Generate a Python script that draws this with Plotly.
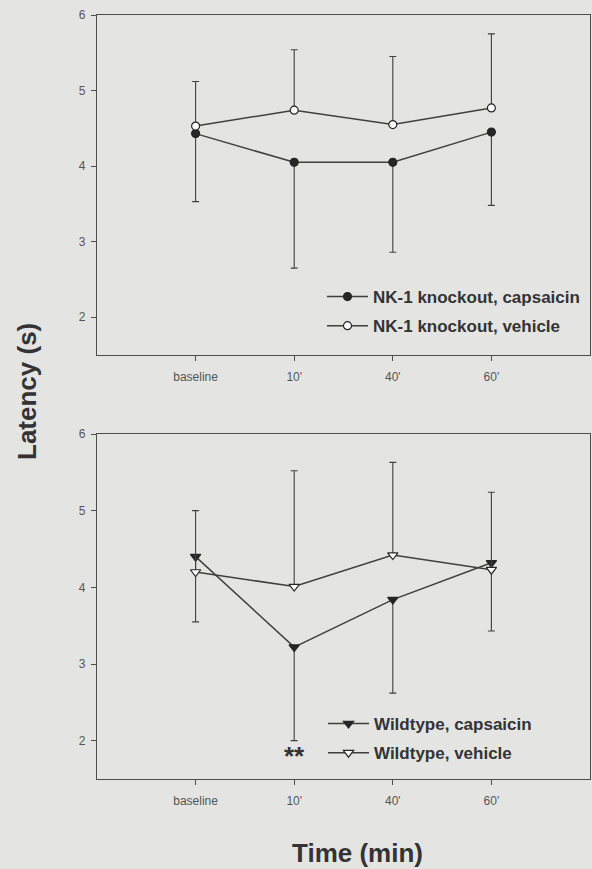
import plotly.graph_objects as go

# ---------------- data ----------------
time_labels = ["baseline", "10'", "40'", "60'"]

ko_caps_mean = [4.43, 4.05, 4.05, 4.45]
ko_caps_lower = [3.53, 2.65, 2.86, 3.48]
ko_veh_mean = [4.53, 4.74, 4.55, 4.77]
ko_veh_upper = [5.12, 5.54, 5.45, 5.75]

wt_caps_mean = [4.40, 3.22, 3.84, 4.32]
wt_caps_lower = [3.55, 2.00, 2.62, 3.43]
wt_veh_mean = [4.20, 4.01, 4.42, 4.23]
wt_veh_upper = [5.00, 5.52, 5.63, 5.24]

y_ticks = [2, 3, 4, 5, 6]
signif_label = "**"
signif_time = "10'"
signif_y = 1.80

# ---------------- styles ----------------
BG = "#e4e5e3"
AX = "#4d4d4d"
LINE = "#3f3f3f"
DARK = "#262626"
FONT = "Liberation Sans, Arial, sans-serif"

W, H = 592, 869
ML, MR, MT, MB = 97, 2, 15, 90
PH = H - MT - MB


def py(pix):
    return (H - MB - pix) / PH


def px(pix):
    return (pix - ML) / (W - ML - MR)


def down(mean, lower):
    return [m - l for m, l in zip(mean, lower)]


def up(mean, upper):
    return [u - m for m, u in zip(mean, upper)]


zeros = [0] * len(time_labels)

fig = go.Figure()

def add(mean, err_plus, err_minus, name, symbol, fill, xa, ya, legend, group):
    fig.add_trace(go.Scatter(
        x=time_labels, y=mean, name=name, mode="lines+markers",
        xaxis=xa, yaxis=ya, legend=legend, legendgroup=group,
        line=dict(color=LINE, width=1.5),
        marker=dict(symbol=symbol, size=9 if "triangle" in symbol else 8,
                    color=fill, line=dict(color=DARK, width=1.2)),
        error_y=dict(type="data", symmetric=False, array=err_plus,
                     arrayminus=err_minus, color=LINE, thickness=1.1, width=3.5),
    ))

add(ko_caps_mean, zeros, down(ko_caps_mean, ko_caps_lower),
    "NK-1 knockout, capsaicin", "circle", DARK, "x", "y", "legend", "a")
add(ko_veh_mean, up(ko_veh_mean, ko_veh_upper), zeros,
    "NK-1 knockout, vehicle", "circle", "#ffffff", "x", "y", "legend", "b")
add(wt_caps_mean, zeros, down(wt_caps_mean, wt_caps_lower),
    "Wildtype, capsaicin", "triangle-down", DARK, "x2", "y2", "legend2", "c")
add(wt_veh_mean, up(wt_veh_mean, wt_veh_upper), zeros,
    "Wildtype, vehicle", "triangle-down", "#ffffff", "x2", "y2", "legend2", "d")

xcommon = dict(type="category", categoryorder="array", categoryarray=time_labels,
               range=[-1, 4], showline=True, linecolor=AX, linewidth=1.2,
               mirror=True, ticks="outside", ticklen=5, tickcolor=AX,
               tickwidth=1, showgrid=False, zeroline=False,
               tickfont=dict(family=FONT, size=12, color="#555555"),
               ticklabelstandoff=5)
ycommon = dict(range=[1.5, 6], tickvals=y_ticks, showline=True, linecolor=AX,
               linewidth=1.2, mirror=True, ticks="outside", ticklen=5,
               tickcolor=AX, tickwidth=1, showgrid=False, zeroline=False,
               tickfont=dict(family=FONT, size=12, color="#555555"),
               ticklabelstandoff=3)

top_dom = [py(355), py(15)]
bot_dom = [py(779), py(434)]

legend_common = dict(bgcolor="rgba(0,0,0,0)", borderwidth=0,
                     font=dict(family=FONT, size=17, color="#333333", weight="bold"),
                     tracegroupgap=4, xanchor="left", yanchor="top",
                     itemwidth=41)

fig.update_layout(
    width=W, height=H,
    margin=dict(l=ML, r=MR, t=MT, b=MB),
    paper_bgcolor=BG, plot_bgcolor=BG,
    xaxis=dict(domain=[0, 1], anchor="y", **xcommon),
    yaxis=dict(domain=top_dom, anchor="x", **ycommon),
    xaxis2=dict(domain=[0, 1], anchor="y2", **xcommon),
    yaxis2=dict(domain=bot_dom, anchor="x2", **ycommon),
    legend=dict(x=px(322), y=py(279), **legend_common),
    legend2=dict(x=px(323), y=py(706), **legend_common),
    showlegend=True,
    annotations=[
        dict(text=signif_label, x=signif_time, y=signif_y, xref="x2", yref="y2",
             showarrow=False, xanchor="center", yanchor="middle",
             font=dict(family=FONT, size=26, color="#333333", weight="bold")),
        dict(text="Latency (s)", x=px(27), y=py(392), xref="paper", yref="paper",
             textangle=-90, showarrow=False, xanchor="center", yanchor="middle",
             font=dict(family=FONT, size=26, color="#333333", weight="bold")),
        dict(text="Time (min)", x=px(357), y=py(853), xref="paper", yref="paper",
             showarrow=False, xanchor="center", yanchor="middle",
             font=dict(family=FONT, size=26, color="#333333", weight="bold")),
    ],
)

fig.write_html("out.html", config={"displayModeBar": False},
               post_script="document.body.style.margin='0';document.body.style.background='%s';" % BG)
